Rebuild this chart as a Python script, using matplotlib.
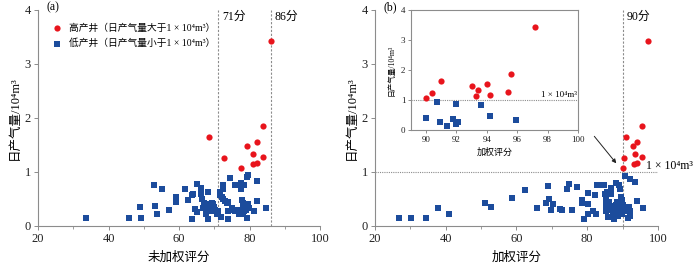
import numpy as np
import matplotlib.pyplot as plt

plt.rcParams['font.family'] = ['Liberation Serif', 'Noto Sans CJK SC', 'DejaVu Serif']
plt.rcParams['axes.unicode_minus'] = False

# ============================================================
# Data
# ============================================================
# daily gas rate of the high producers (same wells in both panels)
high_y = [1.64, 1.25, 1.08, 1.48, 1.55, 1.33, 1.15, 1.16, 1.27, 1.86, 3.43]
a_high_x = [68.6, 72.7, 77.5, 79.4, 82.2, 81.1, 80.9, 82.0, 83.7, 83.9, 86.2]
b_high_x = [91.0, 90.4, 90.0, 93.0, 94.0, 93.4, 93.3, 94.2, 95.4, 95.6, 97.2]

a_low_x = [33.7, 45.8, 48.9, 49.3, 53.0, 53.3, 53.7, 55.1, 57.1, 59.0, 59.1,
           61.7, 62.4, 63.6, 63.9, 63.6, 64.5, 65.2, 65.2, 66.2, 66.1, 66.6,
           67.1, 66.9, 67.8, 68.2, 68.2, 67.5, 68.6, 69.2, 69.7, 68.8, 69.4,
           70.1, 69.9, 70.7, 71.1, 71.6, 71.6, 72.1, 72.4, 72.4, 72.6, 72.0,
           73.0, 73.7, 73.9, 73.9, 74.4, 73.9, 74.9, 75.4, 75.9, 75.9, 76.5,
           76.9, 77.5, 77.7, 77.8, 77.3, 78.0, 78.5, 78.2, 78.7, 79.0, 79.2,
           79.4, 79.6, 79.2, 79.6, 79.8, 78.5, 81.3, 82.1, 82.2, 84.7, 78.0]
a_low_y = [0.15, 0.15, 0.35, 0.15, 0.75, 0.37, 0.23, 0.69, 0.30, 0.54, 0.44,
           0.69, 0.48, 0.57, 0.59, 0.12, 0.31, 0.78, 0.25, 0.70, 0.60, 0.49,
           0.42, 0.33, 0.33, 0.62, 0.13, 0.23, 0.41, 0.43, 0.41, 0.30, 0.27,
           0.30, 0.36, 0.23, 0.28, 0.63, 0.57, 0.54, 0.76, 0.68, 0.50, 0.17,
           0.47, 0.43, 0.45, 0.28, 0.88, 0.13, 0.33, 0.30, 0.76, 0.27, 0.30,
           0.23, 0.80, 0.69, 0.48, 0.30, 0.31, 0.76, 0.23, 0.36, 0.30, 0.14,
           0.90, 0.94, 0.38, 0.41, 0.33, 0.27, 0.27, 0.46, 0.83, 0.33, 0.42]

b_low_x = [26.8, 30.2, 34.4, 37.9, 40.8, 51.1, 52.8, 58.7, 62.4, 65.9, 68.2,
           68.8, 69.3, 69.7, 70.4, 72.4, 72.8, 74.4, 74.8, 75.7, 77.2, 78.4,
           78.5, 79.0, 80.2, 80.1, 80.3, 81.7, 82.1, 82.4, 82.8, 83.1, 84.8,
           84.9, 85.2, 85.4, 85.6, 85.4, 85.9, 86.2, 86.4, 86.6, 86.8, 87.3,
           87.6, 88.0, 88.2, 88.5, 88.7, 89.0, 89.2, 89.4, 89.7, 89.4, 89.8,
           86.8, 88.2, 87.5, 89.2, 85.2,
           90.0, 90.7, 90.9, 91.4, 91.8, 92.0, 92.0, 92.1, 93.6, 94.2, 95.9]
b_low_y = [0.15, 0.15, 0.14, 0.34, 0.23, 0.43, 0.36, 0.52, 0.67, 0.33, 0.43,
           0.74, 0.50, 0.29, 0.40, 0.31, 0.30, 0.69, 0.78, 0.30, 0.73, 0.48,
           0.42, 0.12, 0.61, 0.41, 0.22, 0.28, 0.57, 0.23, 0.75, 0.75, 0.75,
           0.59, 0.51, 0.42, 0.62, 0.28, 0.17, 0.45, 0.37, 0.70, 0.30, 0.23,
           0.12, 0.80, 0.30, 0.45, 0.19, 0.76, 0.68, 0.54, 0.48, 0.33, 0.23,
           0.60, 0.39, 0.31, 0.31, 0.36,
           0.39, 0.92, 0.27, 0.14, 0.36, 0.87, 0.19, 0.28, 0.82, 0.46, 0.33]

a_cuts = [71, 86]
b_cut = 90
threshold = 1.0

RED = '#e8141c'
BLUE = '#1c4c9c'
GREY = '#8c8c8c'

unit = '1 × 10⁴m³'
high_label = f'高产井（日产气量大于{unit}）'
low_label = f'低产井（日产气量小于{unit}）'
ylab = '日产气量/10⁴m³'

S_HIGH, S_LOW = 20, 13


def style_axes(ax, box=False, fs=9):
    for s in ['top', 'right']:
        ax.spines[s].set_visible(box)
    for s in ax.spines.values():
        s.set_color(GREY)
        s.set_linewidth(0.8)
    ax.tick_params(direction='out', length=3, width=0.7, color=GREY,
                   labelsize=fs, labelcolor='#222222', pad=2)
    ax.tick_params(which='minor', direction='out', length=2, width=0.6, color=GREY)


fig = plt.figure(figsize=(7.0, 2.69), dpi=100)

# ============================================================
# Panel (a)
# ============================================================
ax1 = fig.add_axes([0.0543, 0.160, 0.403, 0.803])
ax1.scatter(a_high_x, high_y, s=S_HIGH, c=RED, marker='o', linewidths=0,
            label=high_label, zorder=3)
ax1.scatter(a_low_x, a_low_y, s=S_LOW, c=BLUE, marker='s', linewidths=0,
            label=low_label, zorder=3)
for c in a_cuts:
    ax1.axvline(c, color=GREY, ls=(0, (2, 1.5)), lw=0.8, zorder=1)
    ax1.text(c + 1.2, 3.88, f'{c}分', fontsize=8.5, ha='left', va='center')
ax1.set_xlim(20, 100)
ax1.set_ylim(0, 4)
ax1.set_xticks([20, 40, 60, 80, 100])
ax1.set_xticks(np.arange(30, 100, 20), minor=True)
ax1.set_yticks([0, 1, 2, 3, 4])
style_axes(ax1)
ax1.set_xlabel('未加权评分', fontsize=9, labelpad=5)
ax1.set_ylabel(ylab, fontsize=9, labelpad=3)
ax1.text(22.5, 4.05, '(a)', fontsize=8.5, ha='left', va='center')
ax1.legend(loc='upper left', bbox_to_anchor=(0.02, 0.955), frameon=False,
           fontsize=7, handletextpad=0.2, labelspacing=0.6, markerscale=1.0,
           borderaxespad=0)

# ============================================================
# Panel (b)
# ============================================================
ax2 = fig.add_axes([0.5357, 0.160, 0.4043, 0.803])
ax2.scatter(b_high_x, high_y, s=S_HIGH, c=RED, marker='o', linewidths=0, zorder=3)
ax2.scatter(b_low_x, b_low_y, s=S_LOW, c=BLUE, marker='s', linewidths=0, zorder=3)
ax2.axvline(b_cut, color=GREY, ls=(0, (2, 1.5)), lw=0.8, zorder=1)
ax2.text(b_cut + 1.2, 3.88, f'{b_cut}分', fontsize=8.5, ha='left', va='center')
ax2.axhline(threshold, color=GREY, ls=(0, (1, 1)), lw=0.8, zorder=1)
ax2.text(96.6, threshold + 0.11, unit, fontsize=8.5, ha='left',
         va='center', clip_on=False)
ax2.annotate('', xy=(88.7, 1.12), xytext=(81.5, 1.70),
             arrowprops=dict(arrowstyle='-|>', color='#222222', lw=0.7,
                             mutation_scale=6))
ax2.set_xlim(20, 100)
ax2.set_ylim(0, 4)
ax2.set_xticks([20, 40, 60, 80, 100])
ax2.set_xticks(np.arange(30, 100, 20), minor=True)
ax2.set_yticks([0, 1, 2, 3, 4])
style_axes(ax2)
ax2.set_xlabel('加权评分', fontsize=9, labelpad=5)
ax2.set_ylabel(ylab, fontsize=9, labelpad=3)
ax2.text(22.3, 4.05, '(b)', fontsize=8.5, ha='left', va='center')

# ============================================================
# Inset of panel (b)
# ============================================================
ins_high = [(x, y) for x, y in zip(b_high_x, high_y) if x >= 89.5]
ins_low = [(x, y) for x, y in zip(b_low_x, b_low_y) if x >= 89.95]
ax3 = fig.add_axes([0.587, 0.5167, 0.2386, 0.4461])
ax3.scatter([p[0] for p in ins_high], [p[1] for p in ins_high], s=S_HIGH, c=RED,
            marker='o', linewidths=0, zorder=3)
ax3.scatter([p[0] for p in ins_low], [p[1] for p in ins_low], s=S_LOW, c=BLUE,
            marker='s', linewidths=0, zorder=3)
ax3.axhline(threshold, color=GREY, ls=(0, (1, 1)), lw=0.8, zorder=1)
ax3.text(99.9, threshold + 0.03, unit, fontsize=6.5, ha='right',
         va='bottom')
ax3.set_xlim(89, 100)
ax3.set_ylim(0, 4)
ax3.set_xticks([90, 92, 94, 96, 98, 100])
ax3.set_yticks([0, 1, 2, 3, 4])
style_axes(ax3, box=True, fs=6.5)
ax3.tick_params(length=2)
ax3.set_xlabel('加权评分', fontsize=6.5, labelpad=3)
ax3.set_ylabel(ylab, fontsize=5.5, labelpad=4)

fig.savefig('out.png', dpi=100)
